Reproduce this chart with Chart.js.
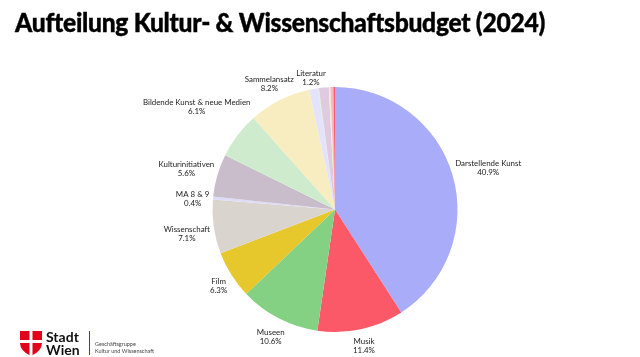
<!DOCTYPE html>
<html>
<head>
<meta charset="utf-8">
<script src="https://cdn.jsdelivr.net/npm/chart.js@4/dist/chart.umd.min.js"></script>
<style>
  html, body { margin:0; padding:0; background:#fff; }
  #wrap { position:relative; width:640px; height:357px; overflow:hidden; }
  #c { position:absolute; left:0; top:0; }
  #title { position:absolute; left:15px; top:6px; font-family:"Lato"; font-weight:900; font-size:26px; color:#000; white-space:nowrap; transform-origin:left top; letter-spacing:-0.3px; -webkit-text-stroke:0.4px #000; }
  .st { position:absolute; font-family:"Lato"; font-weight:700; font-size:14px; line-height:13px; color:#111; }
  .sm { position:absolute; font-family:"Lato"; font-size:5.5px; line-height:7px; color:#444; white-space:nowrap; }
</style>
</head>
<body>
<div id="wrap">
  <canvas id="c" width="640" height="357"></canvas>
  <div id="title">Aufteilung Kultur- &amp; Wissenschaftsbudget (2024)</div>
  <svg width="22" height="25" viewBox="0 0 22 25" style="position:absolute;left:20px;top:331px">
    <path d="M0,0 H22 V12 Q22,20 11,25 Q0,20 0,12 Z" fill="#e3001b"/>
    <rect x="9.5" y="0" width="3" height="25" fill="#fff"/>
    <rect x="0" y="9" width="22" height="3" fill="#fff"/>
  </svg>
  <div class="st" style="left:46px;top:330px">Stadt<br>Wien</div>
  <div style="position:absolute;left:89px;top:331px;width:1px;height:24px;background:#e3001b"></div>
  <div class="sm" style="left:95px;top:341px">Geschäftsgruppe<br>Kultur und Wissenschaft</div>
</div>
<script>
const categories = ["Darstellende Kunst","Musik","Museen","Film","Wissenschaft","MA 8 & 9","Kulturinitiativen","Bildende Kunst & neue Medien","Sammelansatz","Literatur","","","","",""];
const values = [40.9,11.4,10.6,6.3,7.1,0.4,5.6,6.1,8.2,1.2,0.1,1.3,0.2,0.4,0.2];
const colors = ["#a9acf8","#fb5868","#84d184","#e6c72c","#d9d4cd","#dcdcf7","#c9bccb","#ceebcd","#f8edc0","#e3e3fb","#d5ecd0","#e0cae0","#f2efc8","#f6b6c4","#f15b6b"];

const labelPlugin = {
  id: 'outLabels',
  afterDatasetsDraw(chart) {
    const ctx = chart.ctx;
    const meta = chart.getDatasetMeta(0);
    ctx.save();
    ctx.font = '7.9px Lato';
    ctx.fillStyle = '#222';
    ctx.textAlign = 'center';
    ctx.textBaseline = 'middle';
    const lh = 9, offset = 3, shiftY = 3;
    meta.data.forEach((arc, i) => {
      const name = categories[i];
      if (!name) return;
      const p = arc.getProps(['x','y','startAngle','endAngle','outerRadius'], true);
      const mid = (p.startAngle + p.endAngle) / 2;
      const cx = Math.cos(mid), sy = Math.sin(mid);
      const lines = [name, values[i].toFixed(1) + '%'];
      const w = Math.max(...lines.map(l => ctx.measureText(l).width));
      const h = lh * 2;
      const ext = Math.abs(cx) * w / 2 + Math.abs(sy) * h / 2;
      const d = p.outerRadius + offset + ext;
      const x = p.x + cx * d, y = p.y + sy * d + shiftY;
      ctx.fillText(lines[0], x, y - lh / 2);
      ctx.fillText(lines[1], x, y + lh / 2);
    });
    ctx.restore();
  }
};

new Chart(document.getElementById('c'), {
  type: 'pie',
  data: {
    labels: categories,
    datasets: [{ data: values, backgroundColor: colors, borderWidth: 0, hoverOffset: 0 }]
  },
  options: {
    responsive: false,
    animation: false,
    layout: { padding: { left: 212, right: 182, top: 87, bottom: 25 } },
    plugins: { legend: { display: false }, tooltip: { enabled: false } }
  },
  plugins: [labelPlugin]
});

const t = document.getElementById('title');
const tw = t.getBoundingClientRect().width;
t.style.transform = 'scaleX(' + (530 / tw) + ')';
</script>
</body>
</html>
